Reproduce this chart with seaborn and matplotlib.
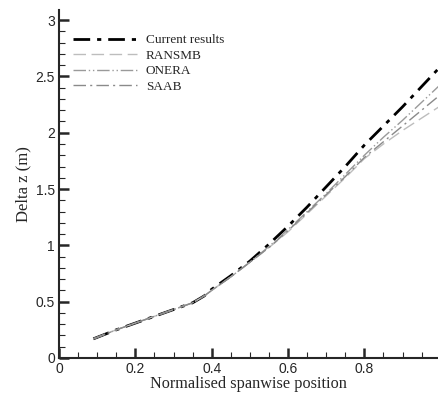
import matplotlib
matplotlib.use("Agg")
import matplotlib.pyplot as plt
import seaborn as sns
import pandas as pd
from matplotlib.ticker import MultipleLocator

# spanwise stations and deflection values
span = [0.09, 0.15, 0.2, 0.25, 0.3, 0.35, 0.38, 0.4, 0.45, 0.5,
        0.55, 0.6, 0.65, 0.7, 0.75, 0.8, 0.85, 0.9, 0.95, 1.0]
current = [0.17, 0.25, 0.31, 0.37, 0.43, 0.49, 0.55, 0.61, 0.73, 0.86,
           1.01, 1.17, 1.34, 1.52, 1.70, 1.89, 2.06, 2.23, 2.41, 2.59]
ransmb = [0.17, 0.25, 0.31, 0.37, 0.43, 0.49, 0.55, 0.60, 0.72, 0.85,
          0.98, 1.12, 1.28, 1.44, 1.60, 1.77, 1.90, 2.02, 2.13, 2.24]
onera = [0.17, 0.25, 0.31, 0.37, 0.43, 0.49, 0.55, 0.60, 0.72, 0.85,
         0.99, 1.14, 1.30, 1.46, 1.63, 1.80, 1.96, 2.11, 2.27, 2.43]
saab = [0.17, 0.25, 0.31, 0.37, 0.43, 0.49, 0.55, 0.60, 0.72, 0.85,
        0.98, 1.13, 1.29, 1.45, 1.61, 1.78, 1.92, 2.06, 2.20, 2.34]

sns.set_style("ticks")
plt.rcParams['font.family'] = ['Liberation Sans', 'DejaVu Sans']

fig = plt.figure(figsize=(4.38, 3.94), dpi=100)
ax = fig.add_axes([0.1347, 0.0914, 0.8653, 0.8832])

sns.lineplot(x=span, y=current, ax=ax, color="black", lw=2,
             linestyle=(0, (6, 2.5, 1.5, 2.5)), label="Current results")
sns.lineplot(x=span, y=ransmb, ax=ax, color="#bdbdbd", lw=1,
             linestyle=(0, (9, 4)), label="RANSMB")
sns.lineplot(x=span, y=onera, ax=ax, color="#9a9a9a", lw=1,
             linestyle=(0, (9, 2, 1, 2, 1, 2)), label="ONERA")
sns.lineplot(x=span, y=saab, ax=ax, color="#8a8a8a", lw=1,
             linestyle=(0, (9, 3, 1.5, 3)), label="SAAB")

ax.set_xlim(0, 0.993)
ax.set_ylim(0, 3.09)
ax.xaxis.set_minor_locator(MultipleLocator(0.05))
ax.yaxis.set_minor_locator(MultipleLocator(0.1))
ax.set_xticks([0, 0.2, 0.4, 0.6, 0.8])
ax.set_xticklabels(["0", "0.2", "0.4", "0.6", "0.8"])
ax.set_yticks([0, 0.5, 1, 1.5, 2, 2.5, 3])
ax.set_yticklabels(["0", "0.5", "1", "1.5", "2", "2.5", "3"])
ax.tick_params(which="major", direction="in", length=7, width=1.8, labelsize=10, pad=3)
ax.tick_params(which="minor", direction="in", length=4, width=0.8)

for side in ["top", "right"]:
    ax.spines[side].set_visible(False)
for side in ["left", "bottom"]:
    ax.spines[side].set_linewidth(1.5)

ax.set_xlabel("Normalised spanwise position", family=["Liberation Serif"], fontsize=11.7, labelpad=0)
ax.set_ylabel("Delta z (m)", family=["Liberation Serif"], fontsize=12, labelpad=3)

leg = ax.legend(loc="upper left", bbox_to_anchor=(0.005, 0.965), frameon=False,
                handlelength=4.85, handletextpad=0.7, labelspacing=0.25,
                prop={"family": "Liberation Serif", "size": 9.5})

fig.savefig("out.png", dpi=100)
